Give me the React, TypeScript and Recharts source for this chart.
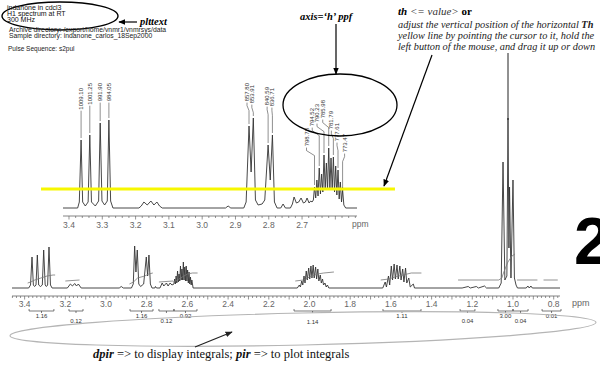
import React from 'react';
import { ComposedChart, Line, Scatter, XAxis, YAxis, ReferenceLine } from 'recharts';

// spectrum vertices: [ppm, height above baseline]
const INSET_SPECTRUM: [number, number][] = [
  [3.418, 0], [3.374, 0], [3.369, 6], [3.3637, 68], [3.359, 6], [3.351, 2], [3.3425, 6], [3.3375, 73], [3.3325, 6],
  [3.321, 2], [3.311, 7], [3.3063, 85], [3.301, 7], [3.293, 3], [3.285, 7], [3.2802, 88], [3.275, 7], [3.268, 0],
  [3.19, 0], [3.183, 2], [3.175, 6], [3.165, 3], [3.154, 7], [3.145, 3], [3.136, 6], [3.128, 2], [3.12, 0],
  [2.93, 0], [2.922, 2], [2.914, 0],
  [2.875, 0], [2.868, 6], [2.8593, 82], [2.853, 36], [2.8464, 90], [2.84, 8], [2.832, 3], [2.82, 4], [2.812, 8],
  [2.802, 63], [2.7955, 28], [2.789, 73], [2.783, 6], [2.775, 0],
  [2.764, 0], [2.757, 4], [2.75, 0],
  [2.735, 0], [2.729, 4], [2.724, 11], [2.717, 5], [2.71, 6], [2.703, 10], [2.696, 5], [2.69, 6], [2.685, 10],
  [2.679, 5], [2.674, 7], [2.67, 6], [2.666, 8], [2.6626, 21], [2.659, 10], [2.6555, 28], [2.652, 12], [2.6484, 40],
  [2.6448, 14], [2.6412, 34], [2.6376, 16], [2.6341, 53], [2.6305, 18], [2.627, 45], [2.6235, 18], [2.6199, 60],
  [2.6165, 20], [2.613, 50], [2.6095, 18], [2.606, 51], [2.6025, 16], [2.599, 42], [2.5955, 13], [2.592, 38],
  [2.5885, 9], [2.585, 26], [2.5815, 6], [2.5782, 18], [2.5745, 3], [2.569, 0], [2.535, 0],
];

const FULL_SPECTRUM: [number, number][] = [
  [3.462, 0], [3.38, 0], [3.371, 3], [3.3637, 31], [3.357, 3], [3.351, 1.5], [3.344, 3], [3.3375, 33], [3.331, 3],
  [3.322, 1.5], [3.313, 3], [3.3063, 38], [3.299, 3], [3.293, 1.5], [3.287, 3], [3.2802, 41], [3.273, 3], [3.265, 0],
  [3.19, 0], [3.175, 4], [3.165, 2], [3.154, 4.5], [3.145, 2], [3.136, 4], [3.122, 0],
  [2.935, 0], [2.925, 1.5], [2.915, 0],
  [2.875, 0], [2.866, 4], [2.8593, 42], [2.853, 16], [2.8464, 38], [2.839, 4], [2.83, 1.5], [2.815, 4], [2.802, 31],
  [2.7955, 12], [2.789, 33], [2.782, 4], [2.774, 0],
  [2.76, 0], [2.757, 1.5], [2.752, 0],
  [2.735, 0], [2.724, 5], [2.716, 2], [2.703, 5], [2.695, 2], [2.685, 5], [2.676, 3], [2.666, 4], [2.6626, 9],
  [2.659, 4], [2.6555, 12], [2.652, 5], [2.6484, 17], [2.6448, 6], [2.6412, 14], [2.6376, 7], [2.6341, 22],
  [2.6305, 8], [2.627, 19], [2.6235, 8], [2.6199, 26], [2.6165, 8], [2.613, 21], [2.6095, 7], [2.606, 22],
  [2.6025, 7], [2.599, 18], [2.5955, 5], [2.592, 16], [2.5885, 4], [2.585, 11], [2.5815, 3], [2.5782, 8], [2.572, 0],
  [2.06, 0], [2.05, 3], [2.045, 1], [2.038, 7], [2.033, 3], [2.027, 12], [2.022, 5], [2.016, 17], [2.011, 8],
  [2.004, 20], [1.999, 9], [1.993, 22], [1.988, 10], [1.982, 23], [1.977, 10], [1.97, 21], [1.965, 9], [1.959, 19],
  [1.954, 7], [1.947, 13], [1.942, 5], [1.936, 9], [1.931, 3], [1.924, 5], [1.918, 1], [1.912, 3], [1.905, 0],
  [1.64, 0], [1.628, 6], [1.622, 1], [1.612, 12], [1.606, 3], [1.598, 22], [1.592, 8], [1.584, 24], [1.578, 9],
  [1.57, 23], [1.564, 9], [1.556, 22], [1.55, 8], [1.542, 19], [1.536, 6], [1.528, 20], [1.522, 5], [1.512, 10],
  [1.505, 1], [1.49, 4], [1.484, 0],
  [1.25, 0], [1.22, 1.5], [1.21, 0], [1.18, 1.5], [1.17, 0], [1.14, 2], [1.13, 0],
  [1.07, 0], [1.058, 5], [1.049, 126], [1.04, 8], [1.03, 12], [1.0245, 170], [1.02, 40], [1.017, 101], [1.01, 10],
  [1.0, 108], [0.993, 10], [0.985, 3], [0.978, 0],
  [0.935, 0], [0.927, 2], [0.92, 0], [0.912, 2], [0.905, 0], [0.769, 0],
];

// integral traces drawn over the full spectrum
const INTEGRAL_TRACES: [number, number][][] = [
  [[3.385, 5], [3.37, 6], [3.35, 8], [3.32, 10], [3.29, 12], [3.26, 13], [3.25, 13]],
  [[3.2, 7], [3.13, 8]],
  [[2.885, 4], [2.865, 6], [2.845, 10], [2.81, 12], [2.79, 14], [2.77, 15]],
  [[2.74, 6], [2.67, 7]],
  [[2.67, 6], [2.65, 8], [2.625, 11], [2.6, 14], [2.575, 15], [2.55, 15]],
  [[2.07, 7], [2.03, 8], [2.0, 11], [1.96, 14], [1.93, 15], [1.88, 16]],
  [[1.65, 8], [1.61, 9], [1.58, 11], [1.54, 13], [1.5, 15], [1.45, 15]],
  [[1.27, 8], [1.07, 8]],
  [[1.07, 8], [1.055, 10], [1.045, 16], [1.025, 26], [1.005, 32], [0.99, 34]],
  [[0.98, 8], [0.88, 8]],
  [[0.85, 8], [0.78, 8]],
];

// integral regions (ppm) and values
const INTEGRAL_FROM = [3.378, 3.182, 2.882, 2.74, 2.666, 2.076, 1.639, 1.26, 1.074, 1.0, 0.857];
const INTEGRAL_TO = [3.256, 3.113, 2.769, 2.666, 2.553, 1.894, 1.452, 1.187, 1.0, 0.926, 0.764];
const INTEGRAL_VALUE = ['1.16', '0.12', '1.16', '0.12', '0.92', '1.14', '1.11', '0.04', '3.00', '0.04', '0.01'];
const INTEGRAL_ROW = [0, 1, 0, 1, 0, 2, 0, 1, 0, 1, 0];

// peak picks in Hz (300 MHz)
const PEAK_HZ = [1009.1, 1001.25, 991.9, 984.05, 857.8, 853.91, 840.59, 836.71, 798.78, 794.52, 790.23, 785.98, 781.79, 777.61, 773.47];
const MHZ = 300;

const INSET_TICK_LABELS = [3.4, 3.3, 3.2, 3.1, 3.0, 2.9, 2.8, 2.7];
const FULL_TICK_LABELS = [3.4, 3.2, 3.0, 2.8, 2.6, 2.4, 2.2, 2.0, 1.8, 1.6, 1.4, 1.2, 1.0, 0.8];

// label layout for peak picks
const LABEL_TOP = [88, 83, 83, 83, 83, 85, 87, 88, 128, 108, 104, 100, 111, 123, 134];
const LABEL_SHIFT = [0, 0, 0, 0, -2, -1.5, -1, -0.5, -8, -7, -7, -6, -2, -1, 2];

const SANS = '"Liberation Sans", Arial, sans-serif';
const SERIF = '"Liberation Serif", "Times New Roman", serif';

const toRows = (pts: [number, number][]) => pts.map(([ppm, h]) => ({ ppm, h }));

const stepTicks = (lo: number, hi: number) => {
  const out: number[] = [];
  for (let i = Math.ceil(lo / 0.02 - 1e-6); i * 0.02 <= hi + 1e-6; i++) out.push(+(i * 0.02).toFixed(2));
  return out;
};

const makeTick = (labels: number[], dy: number) => (props: any) => {
  const { x, y, payload } = props;
  const v = payload.value as number;
  const major = Math.abs(v * 10 - Math.round(v * 10)) < 1e-6;
  const labeled = labels.some((l) => Math.abs(l - v) < 1e-6);
  return (
    <g>
      <line x1={x} x2={x} y1={y} y2={y + (major ? 3.5 : 2)} stroke="#666" strokeWidth={0.7} />
      {labeled && (
        <text x={x} y={y + dy} textAnchor="middle" fontSize={8.5} fill="#666" fontFamily={SANS}>
          {v.toFixed(1)}
        </text>
      )}
    </g>
  );
};

const nearestHeight = (pts: [number, number][], ppm: number) => {
  let best = pts[0];
  for (const p of pts) if (Math.abs(p[0] - ppm) < Math.abs(best[0] - ppm)) best = p;
  return best[1];
};

const peakRows = PEAK_HZ.map((hz) => ({ ppm: hz / MHZ, h: nearestHeight(INSET_SPECTRUM, hz / MHZ) }));

const PeakLabel = (props: any) => {
  const { cx, cy, index } = props;
  const text = PEAK_HZ[index].toFixed(2);
  const top = LABEL_TOP[index];
  const shift = LABEL_SHIFT[index];
  const bottom = top + text.length * 3.1 + 1;
  const tx = cx + shift;
  const pts = shift === 0
    ? `${cx},${cy - 2} ${cx},${bottom}`
    : `${cx},${cy - 2} ${cx},${bottom + 8} ${tx},${bottom + 3} ${tx},${bottom}`;
  return (
    <g>
      <polyline points={pts} fill="none" stroke="#444" strokeWidth={0.6} />
      <text transform={`translate(${tx + 2},${top}) rotate(-90)`} textAnchor="end" fontSize={6} fill="#333" fontFamily={SANS}>
        {text}
      </text>
    </g>
  );
};

const Bracket = (value: string, row: number) => (p: any) => {
  const { x1, x2, y1 } = p;
  const mid = (x1 + x2) / 2;
  const dy = row === 0 ? 6.5 : row === 1 ? 11.5 : 13;
  return (
    <g>
      <path d={`M${x1},${y1 - 2}V${y1}H${x2}V${y1 - 2}M${mid},${y1}V${y1 + 2}`} fill="none" stroke="#444" strokeWidth={0.7} />
      <text x={mid} y={y1 + dy} textAnchor="middle" fontSize={6} fill="#333" fontFamily={SANS}>{value}</text>
    </g>
  );
};

function InsetChart() {
  return (
    <ComposedChart width={600} height={371} margin={{ top: 28, right: 243, bottom: 135, left: 63 }}>
      <XAxis
        dataKey="ppm" type="number" domain={[2.535, 3.418]} reversed allowDataOverflow
        ticks={stepTicks(2.535, 3.418)} interval={0} height={20}
        tickLine={false} tickSize={0} tickMargin={0}
        axisLine={{ stroke: '#666', strokeWidth: 0.8 }}
        tick={makeTick(INSET_TICK_LABELS, 12)}
      />
      <YAxis hide type="number" domain={[-8, 180]} allowDataOverflow />
      <Line data={toRows(INSET_SPECTRUM)} dataKey="h" type="linear" stroke="#333" strokeWidth={0.9} dot={false} isAnimationActive={false} />
      <Scatter data={peakRows} dataKey="h" shape={PeakLabel} isAnimationActive={false} />
      <ReferenceLine segment={[{ x: 3.484, y: 19 }, { x: 2.421, y: 19 }]} ifOverflow="visible" stroke="#f7f700" strokeWidth={3} />
    </ComposedChart>
  );
}

function FullChart() {
  return (
    <ComposedChart width={600} height={371} margin={{ top: 108, right: 40, bottom: 55, left: 12 }}>
      <XAxis
        dataKey="ppm" type="number" domain={[0.769, 3.462]} reversed allowDataOverflow
        ticks={stepTicks(0.769, 3.462)} interval={0} height={20}
        tickLine={false} tickSize={0} tickMargin={0}
        axisLine={{ stroke: '#666', strokeWidth: 0.8 }}
        tick={makeTick(FULL_TICK_LABELS, 11)}
      />
      <YAxis hide type="number" domain={[-8, 180]} allowDataOverflow />
      <Line data={toRows(FULL_SPECTRUM)} dataKey="h" type="linear" stroke="#333" strokeWidth={0.9} dot={false} isAnimationActive={false} />
      {INTEGRAL_TRACES.map((tr, i) => (
        <Line key={i} data={toRows(tr)} dataKey="h" type="linear" stroke="#777" strokeWidth={0.8} dot={false} isAnimationActive={false} />
      ))}
      {INTEGRAL_VALUE.map((v, i) => (
        <ReferenceLine
          key={'b' + i}
          segment={[{ x: INTEGRAL_FROM[i], y: -23 }, { x: INTEGRAL_TO[i], y: -23 }]}
          ifOverflow="visible"
          shape={Bracket(v, INTEGRAL_ROW[i])}
        />
      ))}
    </ComposedChart>
  );
}

function Notes() {
  return (
    <svg width={600} height={371} style={{ position: 'absolute', left: 0, top: 0 }}>
      <defs>
        <marker id="ah" viewBox="0 0 10 10" refX="9" refY="5" markerWidth="6" markerHeight="6" orient="auto-start-reverse">
          <path d="M0,1 L10,5 L0,9 z" fill="#000" />
        </marker>
        <marker id="ahg" viewBox="0 0 10 10" refX="9" refY="5" markerWidth="6" markerHeight="6" orient="auto-start-reverse">
          <path d="M0,1 L10,5 L0,9 z" fill="#222" />
        </marker>
      </defs>
      {/* header block */}
      <ellipse cx={60} cy={16} rx={58} ry={14} fill="none" stroke="#000" strokeWidth={1.4} />
      <g fontFamily={SANS} fontSize={7} fill="#111">
        <text x={7} y={10}>indanone in cdcl3</text>
        <text x={7} y={16}>H1 spectrum at RT</text>
        <text x={7} y={22}>300 MHz</text>
      </g>
      <g fontFamily={SANS} fontSize={6.8} fill="#222">
        <text x={9} y={32}>Archive directory: /export/home/vnmr1/vnmrsys/data</text>
        <text x={9} y={38}>Sample directory: indanone_carlos_18Sep2000</text>
        <text x={8} y={51} fontSize={6.5}>Pulse Sequence: s2pul</text>
      </g>
      <text x={140} y={25} fontFamily={SERIF} fontSize={10.5} fontWeight="bold" fontStyle="italic">plttext</text>
      <line x1={137} y1={22} x2={119} y2={22} stroke="#000" strokeWidth={1.2} markerEnd="url(#ah)" />

      {/* axis / ppf note */}
      <text x={300} y={20} fontFamily={SERIF} fontSize={10.5} fontWeight="bold" fontStyle="italic">axis=‘h’  ppf</text>
      <line x1={336} y1={24} x2={336} y2={74} stroke="#000" strokeWidth={1.2} markerEnd="url(#ah)" />
      <ellipse cx={340} cy={105} rx={57} ry={31} fill="none" stroke="#000" strokeWidth={1.3} />

      {/* threshold note */}
      <text x={398} y={15} fontFamily={SERIF} fontSize={11}>
        <tspan fontWeight="bold" fontStyle="italic">th</tspan>
        <tspan fontStyle="italic" fill="#333"> {'<= value>'} </tspan>
        <tspan fontWeight="bold">or</tspan>
      </text>
      <g fontFamily={SERIF} fontSize={10.3} fontStyle="italic" fill="#222">
        <text x={398} y={28}>adjust the vertical position of the horizontal <tspan fontWeight="bold">Th</tspan></text>
        <text x={398} y={39}>yellow line by pointing the cursor to it, hold the</text>
        <text x={398} y={50}>left button of the mouse, and drag it up or down</text>
      </g>
      <line x1={432} y1={55} x2={384} y2={186} stroke="#000" strokeWidth={1.2} markerEnd="url(#ah)" />
      <line x1={508} y1={53} x2={508} y2={120} stroke="#222" strokeWidth={1} />

      {/* big figure number */}
      <text x={574} y={264} fontFamily={SANS} fontSize={66} fontWeight="bold" fill="#000">2</text>

      {/* integral note */}
      <ellipse cx={303} cy={329} rx={293} ry={16} fill="none" stroke="#b5b5b5" strokeWidth={1.2} transform="rotate(-1.3 303 329)" />
      <line x1={195} y1={347} x2={232} y2={332} stroke="#222" strokeWidth={1.2} markerEnd="url(#ahg)" />
      <text x={93} y={358} fontFamily={SERIF} fontSize={12.5} fill="#111">
        <tspan fontWeight="bold" fontStyle="italic">dpir</tspan>
        <tspan> =&gt; to display integrals; </tspan>
        <tspan fontWeight="bold" fontStyle="italic">pir</tspan>
        <tspan>  =&gt; to plot integrals</tspan>
      </text>
    </svg>
  );
}

export default function App() {
  return (
    <div style={{ position: 'fixed', left: 0, top: 0, width: 600, height: 371, overflow: 'hidden', background: '#fff' }}>
      <div style={{ position: 'absolute', left: 0, top: 0 }}><InsetChart /></div>
      <div style={{ position: 'absolute', left: 0, top: 0 }}><FullChart /></div>
      <Notes />
      <span style={{ position: 'absolute', left: 352, top: 219, fontFamily: SANS, fontSize: 8.5, color: '#666' }}>ppm</span>
      <span style={{ position: 'absolute', left: 572, top: 298, fontFamily: SANS, fontSize: 9, color: '#666' }}>ppm</span>
    </div>
  );
}
